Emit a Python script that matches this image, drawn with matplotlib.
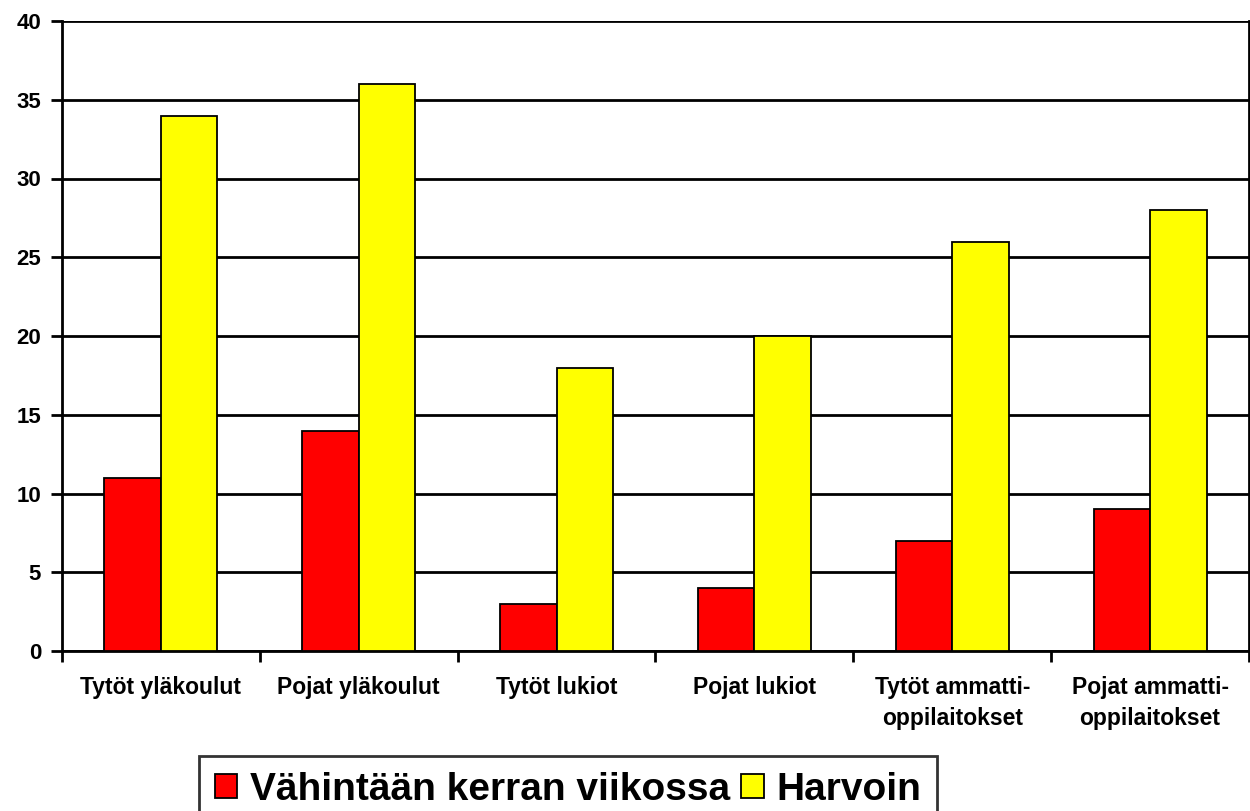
import numpy as np
import matplotlib.pyplot as plt

plt.rcParams['font.family'] = ['Liberation Sans', 'DejaVu Sans']
plt.rcParams['font.weight'] = 'bold'

# Data
categories = ['Tytöt yläkoulut', 'Pojat yläkoulut', 'Tytöt lukiot',
              'Pojat lukiot', 'Tytöt ammatti-\noppilaitokset',
              'Pojat ammatti-\noppilaitokset']
weekly = [11, 14, 3, 4, 7, 9]
rarely = [34, 36, 18, 20, 26, 28]
series_names = ['Vähintään kerran viikossa', 'Harvoin']

fig = plt.figure(figsize=(12.5, 8.11), dpi=100)
ax = fig.add_axes([62 / 1250, 160 / 811, (1249 - 62) / 1250, (651 - 21) / 811])

x = np.arange(len(categories))
w = 1 / 3.5
ax.bar(x - w / 2, weekly, w, color='#ff0000', edgecolor='black', linewidth=1.3,
       label=series_names[0], zorder=3)
ax.bar(x + w / 2, rarely, w, color='#ffff00', edgecolor='black', linewidth=1.3,
       label=series_names[1], zorder=3)

ax.set_xlim(-0.5, len(categories) - 0.5)
ax.set_ylim(0, 40)
ax.set_yticks(range(0, 41, 5))
ax.yaxis.grid(True, color='black', linewidth=2)
ax.set_axisbelow(True)

# category labels between boundary ticks
ax.set_xticks(np.arange(-0.5, len(categories), 1))
ax.set_xticklabels([])
ax.set_xticks(x, minor=True)
ax.set_xticklabels(categories, minor=True, fontsize=16.5, fontweight='bold',
                   linespacing=1.45)
ax.tick_params(axis='x', which='minor', length=0, pad=18)
ax.tick_params(axis='x', which='major', length=8, width=2, direction='out')
ax.tick_params(axis='y', length=8, width=2, direction='out', labelsize=16, pad=7)
for lab in ax.get_yticklabels():
    lab.set_fontweight('bold')

ax.spines['top'].set_visible(False)
for s in ['left', 'right', 'bottom']:
    ax.spines[s].set_linewidth(2)
    ax.spines[s].set_color('black')

leg = fig.legend(loc='upper left', bbox_to_anchor=(199 / 1250, 1 - 756 / 811),
                 ncol=2, fontsize=28, frameon=True, fancybox=False,
                 edgecolor='black', handlelength=0.57, handleheight=0.57,
                 handletextpad=0.33, columnspacing=0.3, borderpad=0.4,
                 borderaxespad=0)
leg.get_frame().set_linewidth(2)
for t in leg.get_texts():
    t.set_fontweight('bold')

fig.savefig('out.png', dpi=100)
